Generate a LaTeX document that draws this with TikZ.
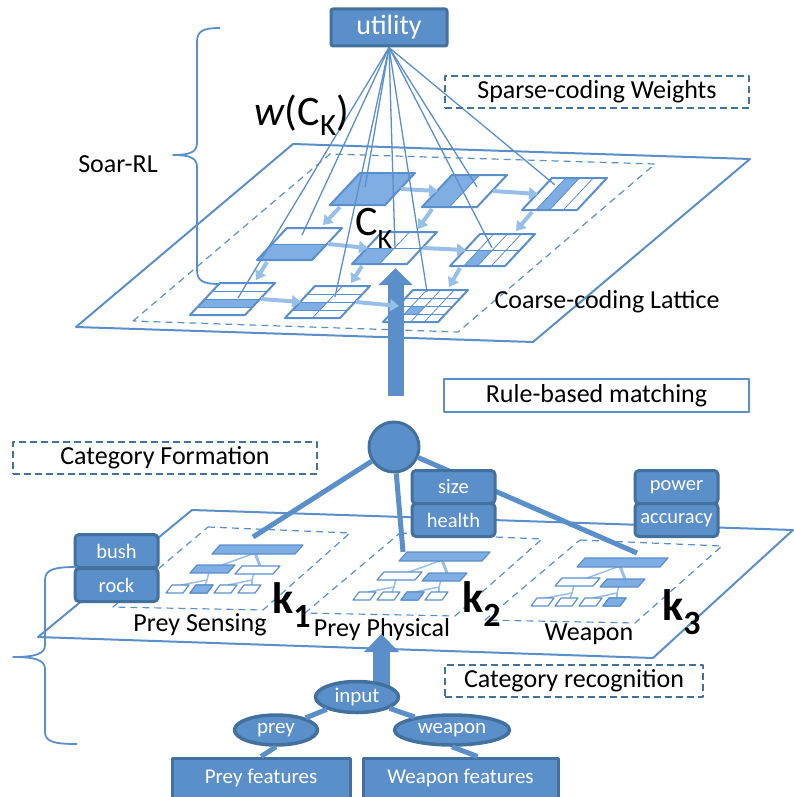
\documentclass[tikz,border=0pt]{standalone}
\usepackage{fontspec}
\setmainfont{Carlito}
\usetikzlibrary{arrows.meta,shapes.geometric}

\definecolor{mainblue}{RGB}{91,143,201}
\definecolor{darkblue}{RGB}{66,113,158}
\definecolor{lightblue}{RGB}{152,191,232}
\definecolor{cellblue}{RGB}{126,174,228}

\tikzset{
  planeedge/.style={draw=mainblue, line width=2pt},
  innerdash/.style={draw=mainblue, line width=1.2pt, dash pattern=on 7pt off 5pt},
  cellline/.style={draw=mainblue, line width=2pt},
  gridline/.style={draw=mainblue, line width=0.8pt},
  latarrow/.style={draw=lightblue, line width=4pt, -{Triangle[length=9pt,width=12pt]}},
  fanline/.style={draw=mainblue, line width=1.3pt},
  bigarrow/.style={draw=mainblue, line width=16pt, -{Triangle[length=17pt,width=33pt]}},
  smallarrow/.style={draw=mainblue, line width=17pt, -{Triangle[length=18pt,width=34pt]}},
  bluebox/.style={draw=darkblue, line width=3pt, fill=mainblue, text=white, rounded corners=4pt,
    inner sep=0pt, minimum width=83pt, minimum height=33pt, font=\fontsize{20.5}{24}\selectfont},
  dashbox/.style={draw=darkblue, line width=1.8pt, dash pattern=on 7pt off 4pt, inner sep=0pt,
    font=\fontsize{26}{30}\selectfont},
  linebox/.style={draw=mainblue, line width=2pt, inner sep=0pt, font=\fontsize{26}{30}\selectfont},
  txt/.style={inner sep=0pt, font=\fontsize{26}{30}\selectfont},
  bigtxt/.style={inner sep=0pt, anchor=base west},
  klabel/.style={inner sep=0pt, anchor=base west, font=\fontsize{44}{50}\selectfont\bfseries},
  hubline/.style={draw=mainblue, line width=5pt},
  treeline/.style={draw=mainblue, line width=5pt},
  oval/.style={ellipse, draw=darkblue, line width=3.5pt, fill=mainblue, text=white, inner sep=0pt,
    font=\fontsize{21}{24}\selectfont},
  featbox/.style={draw=darkblue, line width=3pt, fill=mainblue, text=white, inner sep=0pt,
    minimum height=40pt, font=\fontsize{21}{24}\selectfont},
  treelink/.style={draw=lightblue, line width=1.5pt},
  barfill/.style={draw=mainblue, line width=1.2pt, fill=cellblue},
  barempty/.style={draw=mainblue, line width=1.2pt, fill=white},
  bracket/.style={draw=mainblue, line width=1.8pt},
}

% lattice cell: name, x, y, columns, rows, filled column, filled row
\newcommand{\latcell}[7]{%
  \coordinate (#1) at (#2,#3);
  \fill[cellblue] ({#2+55*(#6-1)/#4-30*(#7-1)/#5},{#3+32*(#7-1)/#5})
    -- ({#2+55*#6/#4-30*(#7-1)/#5},{#3+32*(#7-1)/#5})
    -- ({#2+55*#6/#4-30*#7/#5},{#3+32*#7/#5})
    -- ({#2+55*(#6-1)/#4-30*#7/#5},{#3+32*#7/#5}) -- cycle;
  \foreach \i in {1,...,#4}
    \draw[gridline] ({#2+55*\i/#4},#3) -- ++(-30,32);
  \foreach \j in {1,...,#5}
    \draw[gridline] ({#2-30*\j/#5},{#3+32*\j/#5}) -- ++(55,0);
  \draw[cellline] (#2,#3) -- ++(55,0) -- ++(-30,32) -- ++(-55,0) -- cycle;
}

% category tree: x, y of top bar, filled middle bar, filled leaf
\newcommand{\catclust}[4]{%
  \draw[treelink, line width=3pt] ({#1+35},{#2+8}) -- ({#1+40},{#2+21});
  \draw[treelink] ({#1+35},{#2+8}) -- ({#1+2},{#2+20});
  \draw[treelink] ({#1-11},{#2+27}) -- ({#1-13},{#2+35}) -- ({#1-39},{#2+40});
  \draw[treelink] ({#1-13},{#2+35}) -- ({#1-15},{#2+40});
  \draw[treelink] ({#1+34},{#2+28}) -- ({#1+32},{#2+35}) -- ({#1+8},{#2+40});
  \draw[treelink] ({#1+32},{#2+35}) -- ({#1+32},{#2+40});
  \draw[barfill] (#1,#2) -- ++(83,0) -- ++(-8,9) -- ++(-83,0) -- cycle;
  \ifnum#3=1
    \draw[barfill] ({#1-23},{#2+20}) -- ++(38,0) -- ++(-7,8) -- ++(-38,0) -- cycle;
    \draw[barempty] ({#1+22},{#2+21}) -- ++(38,0) -- ++(-7,8) -- ++(-38,0) -- cycle;
  \else
    \draw[barempty] ({#1-23},{#2+20}) -- ++(38,0) -- ++(-7,8) -- ++(-38,0) -- cycle;
    \draw[barfill] ({#1+22},{#2+21}) -- ++(38,0) -- ++(-7,8) -- ++(-38,0) -- cycle;
  \fi
  \foreach \k in {0,...,3}
    \draw[barempty] ({#1-48+24*\k},{#2+40}) -- ++(17,0) -- ++(-6,8) -- ++(-17,0) -- cycle;
  \draw[barfill] ({#1-48+24*(#4-1)},{#2+40}) -- ++(17,0) -- ++(-6,8) -- ++(-17,0) -- cycle;
}

\begin{document}
\begin{tikzpicture}[x=1pt, y=-1pt, line join=round]
\useasboundingbox (0,0) rectangle (793,797);

% ---- Soar-RL level ----
\coordinate (rbBot) at (395.5,396);
\coordinate (rbTop) at (395.5,268);
\draw[bigarrow] (rbBot) -- (rbTop);
\draw[planeedge] (76,327) -- (293,144) -- (750,159) -- (533,342) -- cycle;
\draw[innerdash] (133,321) -- (330,154) -- (655,164) -- (458,332) -- cycle;

\latcell{cA}{360}{173}{1}{1}{1}{1}
\latcell{cB}{452}{175}{2}{1}{1}{1}
\latcell{cC}{552}{178}{4}{1}{2}{1}
\latcell{cD}{287}{228}{1}{2}{1}{2}
\latcell{cE}{382}{232}{2}{2}{1}{2}
\latcell{cF}{480}{234}{4}{2}{2}{2}
\latcell{cG}{220}{283}{1}{4}{1}{3}
\latcell{cH}{315}{286}{2}{4}{1}{3}
\latcell{cI}{413}{290}{4}{4}{2}{3}

\foreach \a/\b in {cA/cB, cB/cC, cD/cE, cE/cF, cG/cH, cH/cI}
  \draw[latarrow] ([shift={(41,16)}]\a) -- ([shift={(-14,16)}]\b);
\foreach \a/\b in {cA/cD, cB/cE, cC/cF, cD/cG, cE/cH, cF/cI}
  \draw[latarrow] ([shift={(-20,34)}]\a) -- ([shift={(36,-3)}]\b);

\node[bluebox, minimum width=116pt, minimum height=37pt, rounded corners=2pt,
  font=\fontsize{28}{32}\selectfont] (util) at (389,27.5) {utility};
\coordinate (wG) at (238,298);
\coordinate (wD) at (302,235);
\coordinate (wH) at (335,297);
\coordinate (wA) at (365,187);
\coordinate (wE) at (395,248);
\coordinate (wI) at (427,292);
\coordinate (wB) at (477,187);
\coordinate (wF) at (492,248);
\coordinate (wC) at (555,185);
\foreach \p in {wG,wD,wH,wA,wE,wI,wB,wF,wC}
  \draw[fanline] (util.south) -- (\p);

\node[dashbox, minimum width=304pt, minimum height=32pt] (sparse) at (597,92) {Sparse-coding Weights};
\node[bigtxt, font=\fontsize{42}{48}\selectfont] (wck) at (254,125)
  {\textit{w}(C\raisebox{-10pt}{\fontsize{31}{34}\selectfont K})};
\node[bigtxt, font=\fontsize{42}{48}\selectfont] (ck) at (355,235)
  {C\raisebox{-13pt}{\fontsize{28}{32}\selectfont K}};
\node[txt] (lattice) at (607,302) {Coarse-coding Lattice};
\node[txt] (soar) at (118,164) {Soar-RL};
\draw[bracket] (220,28) .. controls (203,28) and (197,31) .. (197,42) -- (197,143)
  .. controls (197,152) and (190,155) .. (173,155)
  .. controls (190,155) and (197,158) .. (197,167) -- (197,270)
  .. controls (197,281) and (203,284) .. (220,284);

\node[linebox, minimum width=305pt, minimum height=33pt] (rule) at (596.5,395.5) {Rule-based matching};

% ---- category level ----
\draw[planeedge] (38,637) -- (192,510) -- (793,530) -- (653,658) -- cycle;
\foreach \x/\y in {208/527, 400/533, 580/540}
  \draw[innerdash] (\x,\y) -- ++(142,6) -- ++(-87,77) -- ++(-150,-3) -- cycle;

\catclust{220}{545}{1}{2}
\catclust{407}{552}{2}{3}
\catclust{585}{558}{2}{4}

\node[klabel] (k1) at (272,613) {k\raisebox{-14pt}{\fontsize{34}{38}\selectfont 1}};
\node[klabel] (k2) at (462,612) {k\raisebox{-14pt}{\fontsize{34}{38}\selectfont 2}};
\node[klabel] (k3) at (662,620) {k\raisebox{-14pt}{\fontsize{34}{38}\selectfont 3}};
\node[txt] (sensing) at (200,625) {Prey Sensing};
\node[txt] (physical) at (382,630) {Prey Physical};
\node[txt] (weaponcat) at (589,634) {Weapon};

\coordinate (psTop) at (253,537);
\coordinate (ppTop) at (403,552);
\coordinate (wpTop) at (637,553);
\node[circle, draw=darkblue, line width=3pt, fill=mainblue, minimum size=50pt] (hub) at (394,447) {};
\draw[hubline] (hub) -- (psTop);
\draw[hubline] (hub) -- (ppTop);
\draw[hubline] (hub) -- (wpTop);

\node[dashbox, minimum width=304pt, minimum height=32pt] (formation) at (165,458) {Category Formation};

\node[bluebox] (bush) at (116.5,551) {bush};
\node[bluebox] (rock) at (116.5,585) {rock};
\node[bluebox] (size) at (453.5,487) {size};
\node[bluebox] (health) at (453.5,520) {health};
\node[bluebox] (power) at (676.5,487) {power};
\node[bluebox] (accuracy) at (676.5,520) {accuracy};

\draw[bracket] (77,567) .. controls (55,567) and (45,569) .. (45,580) -- (45,645)
  .. controls (45,654) and (35,657) .. (13,657)
  .. controls (35,657) and (45,660) .. (45,669) -- (45,732)
  .. controls (45,742) and (55,744) .. (77,744);

% ---- input features ----
\coordinate (inBot) at (381.5,688);
\coordinate (inTop) at (381.5,634);
\draw[smallarrow] (inBot) -- (inTop);
\node[dashbox, minimum width=258pt, minimum height=32pt] (recog) at (574,681) {Category recognition};

\node[oval, minimum width=83pt, minimum height=31pt] (input) at (357,697) {input};
\node[oval, minimum width=83pt, minimum height=30pt] (prey) at (276,730) {prey};
\node[oval, minimum width=115pt, minimum height=30pt] (weapon) at (452,730) {weapon};
\node[featbox, minimum width=178pt] (pfeat) at (261,778) {Prey features};
\node[featbox, minimum width=195pt] (wfeat) at (460.5,778) {Weapon features};
\draw[treeline] (input) -- (prey);
\draw[treeline] (input) -- (weapon);
\draw[treeline] (prey.south) -- (pfeat.north);
\draw[treeline] (weapon.south) -- ([xshift=17pt]wfeat.north);
\end{tikzpicture}
\end{document}
